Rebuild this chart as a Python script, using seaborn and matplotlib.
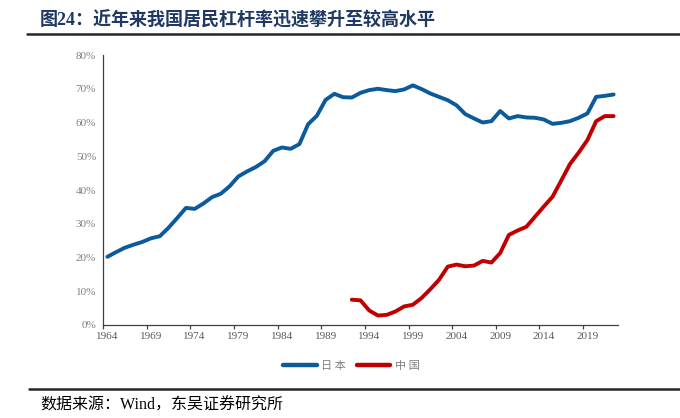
import pandas as pd
import numpy as np
import seaborn as sns
import matplotlib.pyplot as plt
from matplotlib.ticker import FixedLocator, PercentFormatter

# 居民杠杆率 (%)
japan_years = list(range(1964, 2023))
japan = [20.2, 21.6, 22.9, 23.8, 24.6, 25.7, 26.3, 28.8, 31.7, 34.7,
         34.4, 36.0, 37.9, 38.9, 41.1, 44.0, 45.5, 46.8, 48.5, 51.6,
         52.6, 52.2, 53.6, 59.5, 62.0, 66.7, 68.5, 67.5, 67.4, 68.8,
         69.6, 70.0, 69.6, 69.3, 69.8, 71.0, 69.9, 68.6, 67.6, 66.6,
         65.1, 62.5, 61.2, 60.0, 60.4, 63.4, 61.2, 61.9, 61.5, 61.4,
         60.9, 59.6, 59.9, 60.4, 61.4, 62.7, 67.6, 67.9, 68.3]
china_years = list(range(1992, 2023))
china = [7.5, 7.3, 4.3, 2.8, 3.0, 4.0, 5.5, 6.0, 8.0, 10.6,
         13.4, 17.3, 17.9, 17.4, 17.6, 19.0, 18.5, 21.3, 26.7, 28.0,
         29.1, 32.1, 35.1, 38.0, 42.8, 47.7, 51.1, 54.8, 60.4, 61.9, 61.9]

tick_years = list(range(1964, 2023, 5))
title = "图24：近年来我国居民杠杆率迅速攀升至较高水平"
source = "数据来源：Wind，东吴证券研究所"

df = pd.concat([
    pd.DataFrame({"year": japan_years, "value": japan, "country": "日本"}),
    pd.DataFrame({"year": china_years, "value": china, "country": "中国"}),
])

sns.set_style("white")
plt.rcParams['font.family'] = ['Liberation Serif', 'Noto Sans CJK SC', 'DejaVu Sans']

fig = plt.figure(figsize=(6.8, 4.18), dpi=100)
ax = fig.add_axes([0.1515, 0.2225, 0.7573, 0.6459])

sns.lineplot(data=df, x="year", y="value", hue="country",
             palette={"日本": "#0B5A9C", "中国": "#C00000"},
             linewidth=2.8, ax=ax, legend=False)

ax.set_xlim(1963.5, 2022.5)
ax.set_ylim(0, 80)
ax.set_xlabel("")
ax.set_ylabel("")

# category-style axis: tick marks at boundaries, labels at the year
ax.xaxis.set_major_locator(FixedLocator(tick_years))
ax.xaxis.set_minor_locator(FixedLocator([y - 0.5 for y in tick_years]))
ax.set_xticklabels([str(y) for y in tick_years])
ax.tick_params(axis="x", which="major", length=0, pad=5, labelsize=8, labelcolor="#595959")
ax.tick_params(axis="x", which="minor", length=3, width=0.9, color="#404040", direction="out")
ax.tick_params(axis="x", which="minor", bottom=True)

ax.set_yticks(range(0, 81, 10))
ax.yaxis.set_major_formatter(PercentFormatter(decimals=0))
ax.tick_params(axis="y", length=3, width=0.9, color="#404040", direction="out",
               pad=2, labelsize=8, labelcolor="#7f7f7f")

for s in ["top", "right"]:
    ax.spines[s].set_visible(False)
for s in ["left", "bottom"]:
    ax.spines[s].set_color("#404040")
    ax.spines[s].set_linewidth(0.9)

# legend
handles = [plt.Line2D([], [], color="#0B5A9C", lw=3.2, solid_capstyle="round"),
           plt.Line2D([], [], color="#C00000", lw=3.2, solid_capstyle="round")]
fig.legend(handles, ["日 本", "中 国"], loc="center", bbox_to_anchor=(0.517, 0.124),
           ncol=2, frameon=False, handlelength=3.0, handletextpad=0.4, columnspacing=1.0,
           prop={"family": ["Noto Sans CJK SC"], "size": 8}, labelcolor="#7f7f7f")

# title, rules and source
fig.text(0.059, 0.952, title, fontsize=13, fontweight="bold", color="#1F3864",
         family=["Liberation Serif", "Noto Sans CJK SC"], va="center", ha="left")
fig.add_artist(plt.Line2D([0.040, 1.0], [0.919, 0.919], color="#262626", lw=1.8))
fig.add_artist(plt.Line2D([0.043, 1.0], [0.069, 0.069], color="#262626", lw=1.8))
fig.text(0.059, 0.030, source, fontsize=11.5, color="black",
         family=["Liberation Serif", "Noto Sans CJK SC"], va="center", ha="left")

fig.savefig("out.png", dpi=100)
